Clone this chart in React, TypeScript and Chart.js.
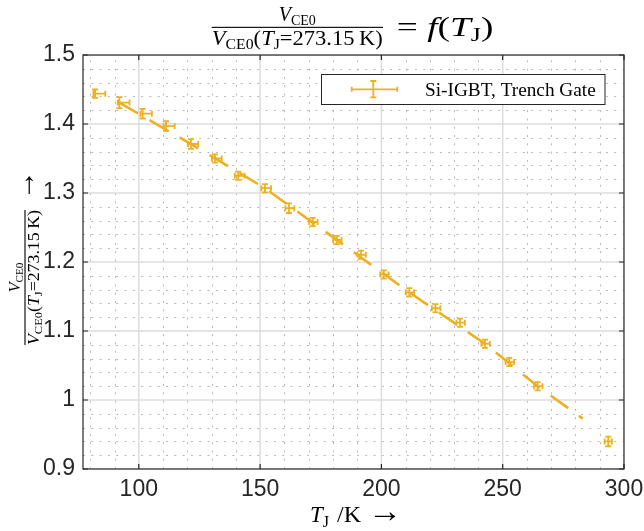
import React, { useEffect, useRef } from "react";
import { Chart, registerables } from "chart.js";

Chart.register(...registerables);

// ---------- data ----------
const tempK = [82.0, 92.0, 101.6, 111.2, 121.5, 131.4, 141.0, 152.0, 161.9, 171.7, 181.6, 191.6, 201.0, 211.5, 222.3, 232.4, 242.7, 252.7, 264.4, 293.5];
const vRatio = [1.444, 1.431, 1.415, 1.397, 1.371, 1.35, 1.325, 1.307, 1.278, 1.258, 1.232, 1.2105, 1.182, 1.156, 1.133, 1.112, 1.0815, 1.055, 1.02, 0.94];
const tErrNeg = [0.7, 0.7, 0.9, 1.0, 1.2, 1.3, 1.4, 1.5, 1.5, 1.5, 1.5, 1.5, 1.5, 1.5, 1.5, 1.5, 1.5, 1.5, 1.5, 1.5];
const tErrPos = [4.2, 4.2, 3.8, 3.6, 3.0, 2.8, 2.6, 2.5, 2.2, 2.0, 2.0, 2.0, 2.0, 2.0, 2.0, 2.0, 2.0, 2.0, 2.0, 1.5];
const vErr = [0.006, 0.008, 0.007, 0.007, 0.007, 0.006, 0.006, 0.006, 0.007, 0.006, 0.006, 0.006, 0.006, 0.006, 0.006, 0.006, 0.006, 0.006, 0.006, 0.007];

// dash-dotted fit curve
const fitT = [92.0, 121.5, 152.0, 181.6, 211.5, 242.7, 264.4, 283.0];
const fitV = [1.431, 1.371, 1.307, 1.232, 1.156, 1.0815, 1.02, 0.973];

const xTicks = [100, 150, 200, 250, 300];
const yTicks = [0.9, 1.0, 1.1, 1.2, 1.3, 1.4, 1.5];
const X_MIN = 77;
const X_MAX = 300;
const Y_MIN = 0.9;
const Y_MAX = 1.5;
const X_MINOR = 10;
const Y_MINOR = 0.02;

const legendLabel = "Si-IGBT, Trench Gate";

const COLOR = "#EDB120";
const AXIS = "#262626";
const SERIF = '"Liberation Serif", "Times New Roman", serif';

type Seg = { t: string; it?: boolean; sub?: boolean; scale?: number; dy?: number };

function segFont(s: Seg, size: number) {
  const sz = (s.sub ? size * 0.7 : size) * (s.scale || 1);
  return `${s.it ? "italic " : ""}${sz}px ${SERIF}`;
}
function measureRich(ctx: CanvasRenderingContext2D, segs: Seg[], size: number) {
  let w = 0;
  for (const s of segs) {
    ctx.font = segFont(s, size);
    w += ctx.measureText(s.t).width;
  }
  return w;
}
function drawRich(
  ctx: CanvasRenderingContext2D,
  segs: Seg[],
  x: number,
  y: number,
  size: number,
  align: "left" | "center",
  targetW?: number
) {
  const nat = measureRich(ctx, segs, size);
  const sx = targetW ? targetW / nat : 1;
  const w = nat * sx;
  const x0 = align === "center" ? x - w / 2 : x;
  ctx.save();
  ctx.translate(x0, y);
  ctx.scale(sx, 1);
  ctx.textBaseline = "alphabetic";
  ctx.textAlign = "left";
  let px = 0;
  for (const s of segs) {
    ctx.font = segFont(s, size);
    ctx.fillText(s.t, px, (s.sub ? size * 0.2 : 0) + (s.dy || 0) * size);
    px += ctx.measureText(s.t).width;
  }
  ctx.restore();
}

const numSegs: Seg[] = [{ t: "V", it: true }, { t: "CE0", sub: true }];
const denSegs: Seg[] = [
  { t: "V", it: true },
  { t: "CE0", sub: true },
  { t: "(" },
  { t: "T", it: true },
  { t: "J", sub: true },
  { t: "=273.15\u2009K)" },
];
const rhsSegs: Seg[] = [
  { t: "= " },
  { t: "f", it: true },
  { t: "(" },
  { t: "T", it: true },
  { t: "J", sub: true },
  { t: ")" },
];
const xLabelVar: Seg[] = [{ t: "T", it: true }, { t: "J", sub: true }];
const xLabelUnit: Seg[] = [{ t: "/K" }];

const gridPlugin = {
  id: "matlabGrid",
  beforeDatasetsDraw(chart: any) {
    const { ctx, chartArea: a, scales } = chart;
    const x = scales.x;
    const y = scales.y;
    ctx.save();
    ctx.beginPath();
    ctx.rect(a.left, a.top, a.right - a.left, a.bottom - a.top);
    ctx.clip();
    // minor dotted grid
    ctx.strokeStyle = "#b8b8b8";
    ctx.lineWidth = 1;
    ctx.setLineDash([2, 6.3]);
    for (let k = Math.ceil(X_MIN / X_MINOR); k * X_MINOR <= X_MAX; k++) {
      const v = k * X_MINOR;
      if (xTicks.some((t) => Math.abs(t - v) < 1e-6)) continue;
      const px = Math.round(x.getPixelForValue(v)) + 0.5;
      ctx.beginPath();
      ctx.moveTo(px, a.bottom);
      ctx.lineTo(px, a.top);
      ctx.stroke();
    }
    for (let k = 0; Y_MIN + k * Y_MINOR <= Y_MAX + 1e-9; k++) {
      const v = Y_MIN + k * Y_MINOR;
      if (yTicks.some((t) => Math.abs(t - v) < 1e-6)) continue;
      const py = Math.round(y.getPixelForValue(v)) + 0.5;
      ctx.beginPath();
      ctx.moveTo(a.left, py);
      ctx.lineTo(a.right, py);
      ctx.stroke();
    }
    // major grid
    ctx.setLineDash([]);
    ctx.strokeStyle = "#dcdcdc";
    ctx.lineWidth = 1.5;
    for (const v of xTicks) {
      const px = x.getPixelForValue(v);
      ctx.beginPath();
      ctx.moveTo(px, a.bottom);
      ctx.lineTo(px, a.top);
      ctx.stroke();
    }
    for (const v of yTicks) {
      const py = y.getPixelForValue(v);
      ctx.beginPath();
      ctx.moveTo(a.left, py);
      ctx.lineTo(a.right, py);
      ctx.stroke();
    }
    ctx.restore();
  },
};

const overlayPlugin = {
  id: "matlabOverlay",
  afterDatasetsDraw(chart: any) {
    const { ctx, chartArea: a, scales } = chart;
    const x = scales.x;
    const y = scales.y;
    const pts = chart.data.datasets[1].data as { x: number; y: number }[];
    const cap = 3;
    ctx.save();
    ctx.strokeStyle = COLOR;
    ctx.lineWidth = 1.8;
    ctx.setLineDash([]);
    pts.forEach((p, i) => {
      const px = x.getPixelForValue(p.x);
      const py = y.getPixelForValue(p.y);
      const xl = x.getPixelForValue(p.x - tErrNeg[i]);
      const xr = x.getPixelForValue(p.x + tErrPos[i]);
      const yt = y.getPixelForValue(p.y + vErr[i]);
      const yb = y.getPixelForValue(p.y - vErr[i]);
      ctx.beginPath();
      ctx.moveTo(px, yt);
      ctx.lineTo(px, yb);
      ctx.moveTo(px - cap, yt);
      ctx.lineTo(px + cap, yt);
      ctx.moveTo(px - cap, yb);
      ctx.lineTo(px + cap, yb);
      ctx.moveTo(xl, py);
      ctx.lineTo(xr, py);
      ctx.moveTo(xl, py - cap);
      ctx.lineTo(xl, py + cap);
      ctx.moveTo(xr, py - cap);
      ctx.lineTo(xr, py + cap);
      ctx.stroke();
    });
    ctx.restore();

    // axes box and inward ticks
    ctx.save();
    ctx.strokeStyle = AXIS;
    ctx.lineWidth = 1.2;
    ctx.strokeRect(a.left, a.top, a.right - a.left, a.bottom - a.top);
    const tl = 5;
    ctx.beginPath();
    for (const v of xTicks) {
      const px = x.getPixelForValue(v);
      ctx.moveTo(px, a.bottom);
      ctx.lineTo(px, a.bottom - tl);
      ctx.moveTo(px, a.top);
      ctx.lineTo(px, a.top + tl);
    }
    for (const v of yTicks) {
      const py = y.getPixelForValue(v);
      ctx.moveTo(a.left, py);
      ctx.lineTo(a.left + tl, py);
      ctx.moveTo(a.right, py);
      ctx.lineTo(a.right - tl, py);
    }
    ctx.stroke();
    ctx.restore();

    // legend
    ctx.save();
    const lx = 321.5, ly = 74.5, lw = 283.5, lh = 30;
    ctx.fillStyle = "#ffffff";
    ctx.fillRect(lx, ly, lw, lh);
    ctx.strokeStyle = AXIS;
    ctx.lineWidth = 1;
    ctx.strokeRect(lx, ly, lw, lh);
    ctx.strokeStyle = COLOR;
    ctx.lineWidth = 1.8;
    const cy = 89.3, cx = 373.3;
    ctx.beginPath();
    ctx.moveTo(351.7, cy);
    ctx.lineTo(397.3, cy);
    ctx.moveTo(351.7, cy - 2.5);
    ctx.lineTo(351.7, cy + 2.5);
    ctx.moveTo(397.3, cy - 2.5);
    ctx.lineTo(397.3, cy + 2.5);
    ctx.moveTo(cx, 81);
    ctx.lineTo(cx, 97.3);
    ctx.moveTo(cx - 3, 81);
    ctx.lineTo(cx + 3, 81);
    ctx.moveTo(cx - 3, 97.3);
    ctx.lineTo(cx + 3, 97.3);
    ctx.stroke();
    ctx.fillStyle = "#000000";
    drawRich(ctx, [{ t: legendLabel }], 425, 95.5, 19, "left", 170.7);
    ctx.restore();
  },
  afterDraw(chart: any) {
    const { ctx } = chart;
    ctx.save();
    ctx.fillStyle = "#000000";
    // title: fraction
    const fs = 20;
    drawRich(ctx, numSegs, 297.3, 20.7, fs, "center");
    ctx.fillRect(211.7, 26.8, 171.3, 1.1);
    drawRich(ctx, denSegs, 297.3, 45, fs, "center", 171);
    drawRich(ctx, rhsSegs, 396.7, 35.5, 27, "left", 96.7);

    // x label: T_J /K ->
    drawRich(ctx, xLabelVar, 310, 522, 23, "left");
    drawRich(ctx, xLabelUnit, 337, 522, 24, "left");
    ctx.font = `34px ${SERIF}`;
    ctx.textBaseline = "middle";
    ctx.textAlign = "center";
    ctx.fillText("\u2192", 385, 513);

    // y label (rotated)
    ctx.save();
    ctx.translate(25, 277.5);
    ctx.rotate(-Math.PI / 2);
    const ys = 16;
    drawRich(ctx, numSegs, 0, -5.3, ys, "center");
    ctx.fillRect(-67.5, -0.55, 135, 1.1);
    drawRich(ctx, denSegs, 0, 14, ys, "center", 135);
    ctx.font = `30px ${SERIF}`;
    ctx.textBaseline = "middle";
    ctx.textAlign = "center";
    ctx.fillText("\u2192", 92.5, 1);
    ctx.restore();
    ctx.restore();
  },
};

export default function App() {
  const ref = useRef<HTMLCanvasElement | null>(null);
  useEffect(() => {
    const canvas = ref.current;
    if (!canvas) return;
    const measured = tempK.map((t, i) => ({ x: t, y: vRatio[i] }));
    const fit = fitT.map((t, i) => ({ x: t, y: fitV[i] }));
    const tickFont = { family: '"Liberation Sans", Arial, sans-serif', size: 23 };
    const chart = new Chart(canvas, {
      type: "scatter",
      data: {
        datasets: [
          {
            label: "fit",
            data: fit,
            showLine: true,
            borderColor: COLOR,
            backgroundColor: COLOR,
            borderWidth: 2.6,
            borderDash: [21.5, 13.3],
            pointRadius: 0,
            tension: 0,
          } as any,
          {
            label: legendLabel,
            data: measured,
            showLine: false,
            pointRadius: 0,
            borderColor: COLOR,
            backgroundColor: COLOR,
          },
        ],
      },
      plugins: [gridPlugin, overlayPlugin],
      options: {
        animation: false,
        responsive: false,
        devicePixelRatio: 1,
        layout: { padding: { top: 55, right: 20, left: 0, bottom: 0 } },
        plugins: { legend: { display: false }, tooltip: { enabled: false }, title: { display: false } },
        scales: {
          x: {
            type: "linear",
            min: X_MIN,
            max: X_MAX,
            grid: { display: false, drawTicks: false },
            border: { display: false },
            ticks: {
              font: tickFont,
              color: AXIS,
              padding: 7,
              maxRotation: 0,
              autoSkip: false,
              callback: (v: any) => String(Number(Number(v).toFixed(2))),
            },
            afterBuildTicks: (s: any) => {
              s.ticks = xTicks.map((v) => ({ value: v }));
            },
            afterFit: (s: any) => {
              s.height = 62;
              s.paddingLeft = 0;
              s.paddingRight = 0;
            },
          },
          y: {
            type: "linear",
            min: Y_MIN,
            max: Y_MAX,
            grid: { display: false, drawTicks: false },
            border: { display: false },
            ticks: {
              font: tickFont,
              color: AXIS,
              padding: 8,
              autoSkip: false,
              callback: (v: any) => String(Number(Number(v).toFixed(2))),
            },
            afterBuildTicks: (s: any) => {
              s.ticks = yTicks.map((v) => ({ value: v }));
            },
            afterFit: (s: any) => {
              s.width = 83;
              s.paddingTop = 0;
              s.paddingBottom = 0;
            },
          },
        },
      } as any,
    });
    const fonts = (document as any).fonts;
    if (fonts && fonts.load) {
      Promise.all([
        fonts.load('23px "Liberation Sans"'),
        fonts.load('20px "Liberation Serif"'),
        fonts.load('italic 20px "Liberation Serif"'),
      ])
        .then(() => chart.update())
        .catch(() => {});
    }
    return () => chart.destroy();
  }, []);
  return (
    <div style={{ position: "fixed", left: 0, top: 0, width: 644, height: 531, background: "#fff" }}>
      <canvas ref={ref} width={644} height={531} style={{ display: "block", width: 644, height: 531 }} />
    </div>
  );
}
